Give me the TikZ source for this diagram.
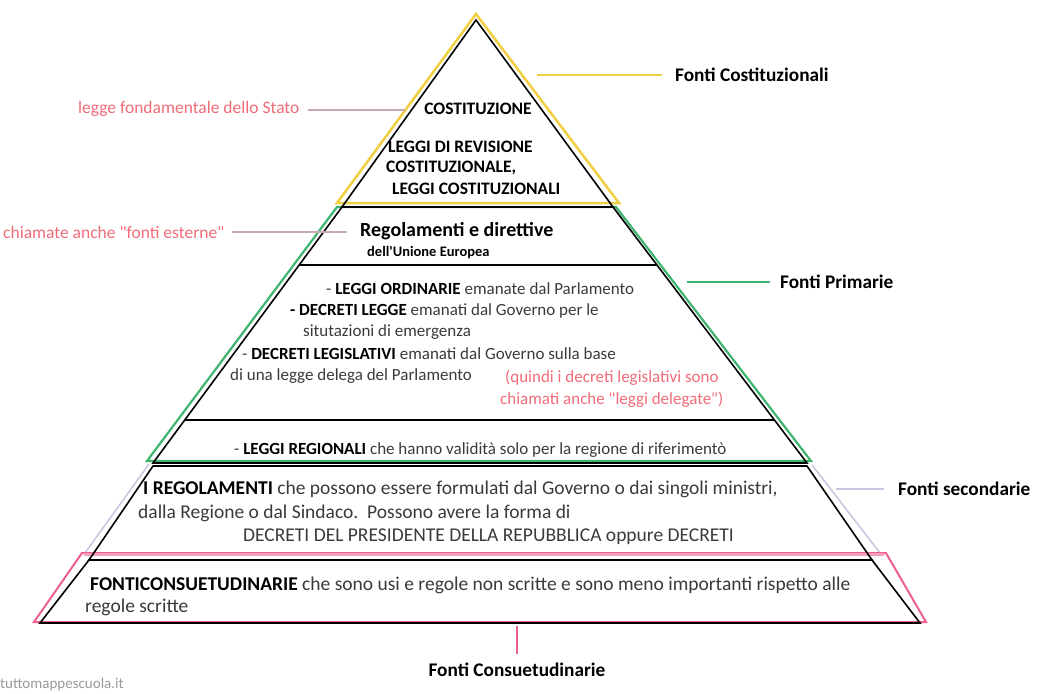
\documentclass[tikz,border=0pt]{standalone}
\usepackage{fontspec}
\setmainfont{Carlito}
\usetikzlibrary{positioning}

\definecolor{ylw}{HTML}{F0D040}
\definecolor{grn}{HTML}{3DB56E}
\definecolor{lav}{HTML}{C4C7DE}
\definecolor{pnk}{HTML}{EC5F8E}
\definecolor{notepink}{HTML}{F06C78}
\definecolor{mauve}{HTML}{C9A9B8}
\definecolor{txtgray}{HTML}{3A3A3A}
\newcommand{\kw}[1]{\textbf{\color{black}#1}}

\begin{document}
\begin{tikzpicture}[x=1pt,y=-1pt,
  txt/.style={anchor=west,inner sep=0pt,text=txtgray,font=\fontsize{17}{20}\selectfont},
  big/.style={txt,font=\fontsize{19.5}{22}\selectfont},
  note/.style={txt,text=notepink},
  lab/.style={inner sep=0pt,text=black,font=\bfseries\fontsize{19.3}{22}\selectfont},
  lead/.style={line width=1.3pt},
  tier/.style={line width=1.6pt,line join=miter}]
\useasboundingbox (0,0) rectangle (1046,693);

% coloured outlines
\draw[ylw,line width=2.5pt] (476,14) -- (619,203) -- (337,203) -- cycle;
\draw[grn,line width=2.2pt] (337,207) -- (616,207) -- (811,461) -- (147,461) -- cycle;
\draw[lav,line width=1.5pt] (149,464) -- (85,553) (812,465) -- (880,553);
\draw[pnk,line width=2pt] (82,553) -- (886,553) -- (926,622) -- (34,622) -- cycle;
\draw[pnk!60,line width=3pt] (84,554) -- (884,554);

% black pyramid
\draw[tier] (476,20) -- (613,207) -- (342,207) -- cycle;
\draw[tier] (342,207) -- (613,207) -- (807,463) -- (153,463) -- cycle;
\draw[tier] (299,265) -- (657,265);
\draw[tier] (185,420) -- (775,420);
\draw[tier] (153,466) -- (807,466) -- (872,560) -- (89,560) -- cycle;
\draw[tier] (89,560) -- (872,560) -- (920,623) -- (40,623) -- cycle;

% testi nei livelli
\node[txt,anchor=center,font=\fontsize{17.5}{20}\selectfont] (cost) at (478,109) {\kw{COSTITUZIONE}};
\node[txt,font=\fontsize{17.5}{20}\selectfont] (rev1) at (388,147) {\kw{LEGGI DI REVISIONE}};
\node[txt,font=\fontsize{17.5}{20}\selectfont] (rev2) at (386,168) {\kw{COSTITUZIONALE,}};
\node[txt,font=\fontsize{17.5}{20}\selectfont] (rev3) at (392,189) {\kw{LEGGI COSTITUZIONALI}};
\node[txt,font=\bfseries\fontsize{20}{22}\selectfont,text=black] (ue1) at (360,231) {Regolamenti e direttive};
\node[txt,font=\bfseries\fontsize{14.5}{16}\selectfont,text=black] (ue2) at (367,253) {dell\textquotesingle Unione Europea};
\node[txt] (ord) at (326,289) {- \kw{LEGGI ORDINARIE} emanate dal Parlamento};
\node[txt] (dl1) at (290,311) {\kw{- DECRETI LEGGE} emanati dal Governo per le};
\node[txt] (dl2) at (303,332) {situtazioni di emergenza};
\node[txt] (dlg1) at (242,354) {- \kw{DECRETI LEGISLATIVI} emanati dal Governo sulla base};
\node[txt] (dlg2) at (230,376) {di una legge delega del Parlamento};
\node[note] (dlg3) at (505,378) {(quindi i decreti legislativi sono};
\node[note] (dlg4) at (500,400) {chiamati anche \textquotedbl leggi delegate\textquotedbl)};
\node[txt] (reg) at (234,450) {- \kw{LEGGI REGIONALI} che hanno validità solo per la regione di riferimentò};
\node[big] (sec1) at (143,489) {\kw{I REGOLAMENTI} che possono essere formulati dal Governo o dai singoli ministri,};
\node[big] (sec2) at (138,513) {dalla Regione o dal Sindaco.\ \ Possono avere la forma di};
\node[big] (sec3) at (243,537) {DECRETI DEL PRESIDENTE DELLA REPUBBLICA oppure DECRETI};
\node[big] (con1) at (90,585) {\kw{FONTICONSUETUDINARIE} che sono usi e regole non scritte e sono meno importanti rispetto alle};
\node[big] (con2) at (85,607) {regole scritte};

% etichette a sinistra
\node[note,font=\fontsize{17.5}{20}\selectfont] (legge) at (78,109) {legge fondamentale dello Stato};
\coordinate (leggeE) at (405,110);
\draw[lead,mauve] (308,110) -- (leggeE);
\node[note,font=\fontsize{17.5}{20}\selectfont] (esterne) at (3,232) {chiamate anche \textquotedbl fonti esterne\textquotedbl};
\coordinate (esterneE) at (347,232);
\draw[lead,mauve,shorten <=8pt] (esterne) -- (esterneE);

% etichette a destra
\coordinate (yc) at (537,75);
\node[lab,anchor=west] (fcost) at (675,75) {Fonti Costituzionali};
\draw[lead,ylw] (yc) -- ([xshift=-13pt]fcost.west);
\coordinate (gp) at (687,282);
\node[lab,anchor=west] (fprim) at (780,282) {Fonti Primarie};
\draw[lead,grn] (gp) -- ([xshift=-10pt]fprim.west);
\coordinate (sc) at (836,489);
\node[lab,anchor=west] (fsec) at (898,489) {Fonti secondarie};
\draw[lead,lav] (sc) -- ([xshift=-14pt]fsec.west);
\coordinate (cc) at (517,626);
\node[lab,below=37pt of cc] (fcons) {Fonti Consuetudinarie};
\draw[lead,pnk] (cc) -- ([yshift=9pt]fcons.north);

\node[txt,text=black!40,font=\fontsize{15}{17}\selectfont] (web) at (0,684) {tuttomappescuola.it};
\end{tikzpicture}
\end{document}
